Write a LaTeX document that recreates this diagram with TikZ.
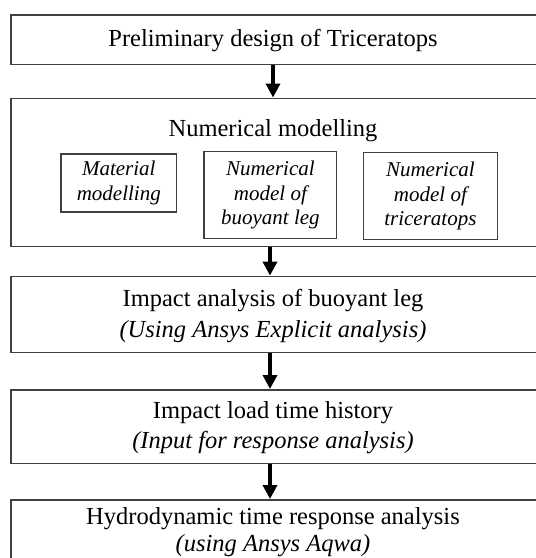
\documentclass[tikz,border=0pt]{standalone}
\usepackage{fontspec}
\setmainfont{Liberation Serif}
\usetikzlibrary{arrows.meta}
\definecolor{boxgray}{HTML}{404040}
\newcommand\mainsz{\fontsize{24.5}{30}\selectfont}
\newcommand\subsz{\fontsize{21}{24.5}\selectfont\itshape}
\tikzset{
  box/.style={draw=boxgray, line width=1.5pt, rectangle, inner sep=0pt, anchor=north west, minimum width=545pt},
  subbox/.style={draw=boxgray, line width=1.3pt, rectangle, inner sep=0pt, align=center, font=\subsz},
  maintext/.style={anchor=base, inner sep=0pt, font=\mainsz},
  subtext/.style={anchor=base, inner sep=0pt, font=\mainsz\itshape},
  arr/.style={line width=4pt, -{Triangle[width=14pt,length=14pt]}}
}
\begin{document}
\begin{tikzpicture}[x=1pt,y=-1pt]
\useasboundingbox (0,0) rectangle (536,558);
\clip (0,0) rectangle (536,558);
\fill[white] (0,0) rectangle (536,558);
% main boxes
\node[box, minimum height=49.5pt] (b1) at (10.3,14.4) {};
\node[box, minimum height=148pt] (b2) at (10.3,97.5) {};
\node[box, minimum height=76.3pt] (b3) at (10.3,275.6) {};
\node[box, minimum height=73.6pt] (b4) at (10.3,389) {};
\node[box, minimum height=100pt] (b5) at (10.3,499) {};
% texts
\node[maintext] (t1) at (273,46) {Preliminary design of Triceratops};
\node[maintext] (t2) at (273,136) {Numerical modelling};
\node[maintext] (t3a) at (273,306.4) {Impact analysis of buoyant leg};
\node[subtext] (t3b) at (273,337.5) {(Using Ansys Explicit analysis)};
\node[maintext] (t4a) at (273,418.8) {Impact load time history};
\node[subtext] (t4b) at (273,448) {(Input for response analysis)};
\node[maintext] (t5a) at (273,524.8) {Hydrodynamic time response analysis};
\node[subtext] (t5b) at (273,551) {(using Ansys Aqwa)};
% sub boxes
\node[subbox, minimum width=115.9pt, minimum height=58pt] (sa) at (118.8,183) {Material\\modelling};
\node[subbox, minimum width=132.8pt, minimum height=87.2pt] (sb) at (270.4,195.1) {Numerical\\model of\\buoyant leg};
\node[subbox, minimum width=134pt, minimum height=86.8pt] (sc) at (430.4,196) {Numerical\\model of\\triceratops};
% arrows
\coordinate (a1) at (273,0);
\coordinate (a2) at (270,0);
\draw[arr] (b1.south -| a1) -- (b2.north -| a1);
\draw[arr] (b2.south -| a2) -- (b3.north -| a2);
\draw[arr] (b3.south -| a2) -- (b4.north -| a2);
\draw[arr] (b4.south -| a2) -- (b5.north -| a2);
\end{tikzpicture}
\end{document}
